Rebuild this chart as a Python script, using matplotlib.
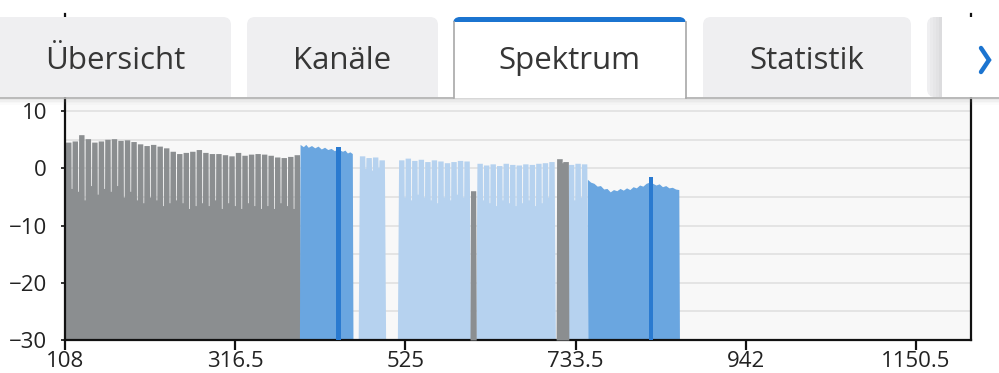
import matplotlib
matplotlib.use("Agg")
import matplotlib.pyplot as plt
from matplotlib.patches import FancyBboxPatch, Rectangle

# ── Data (MHz / dB) ───────────────────────────────────────────
CH_W = 8.0

# analogue / unused band, 8 MHz channels starting at 108
gray_start = 108.0
gray_peaks = [4.6, 4.8, 5.9, 5.2, 4.6, 4.8, 5.1, 5.2, 4.9, 5.0, 4.7, 4.3,
              4.0, 4.2, 3.9, 3.6, 3.0, 2.6, 2.8, 3.0, 3.3, 2.8, 2.6, 2.6,
              2.4, 2.2, 2.8, 2.3, 2.5, 2.6, 2.5, 2.3, 2.0, 1.9, 2.1, 2.4]
gray_dips = [-3.5, -4.0, -5.5, -3.0, -4.5, -3.5, -4.0, -3.0, -5.0, -4.0, -5.5, -6.0,
             -5.0, -5.5, -6.5, -6.0, -5.5, -6.0, -7.0, -6.5, -6.0, -6.5, -5.5, -7.0,
             -6.0, -6.5, -7.0, -6.0, -6.5, -7.0, -6.5, -7.0, -6.0, -6.5, -7.0]

# wide blocks (OFDM) as breakpoints
ofdm1_x = [396, 400, 403, 406, 410, 414, 418, 422, 426, 430, 434, 438, 442, 448, 451, 454, 457, 460]
ofdm1_y = [4.2, 3.8, 4.2, 3.7, 4.0, 3.6, 3.9, 3.4, 3.7, 3.3, 3.5, 3.1, 3.4, 3.0, 3.2, 2.7, 2.9, 2.6]
ofdm2_x = [748, 752, 756, 760, 764, 768, 772, 776, 780, 784, 788, 792, 796, 800, 804,
           808, 812, 816, 820, 824, 828, 832, 836, 840, 844, 848, 852, 856, 860]
ofdm2_y = [-1.9, -2.4, -2.6, -3.1, -3.0, -3.6, -3.5, -4.1, -3.7, -3.9, -3.5, -3.8, -3.4, -3.7, -3.2,
           -3.4, -2.9, -3.1, -2.6, -2.4, -2.6, -2.9, -2.7, -3.2, -3.0, -3.4, -3.3, -3.6, -3.7]

# narrow markers inside the wide blocks
marker_lo = [440, 823]
marker_hi = [446, 829]
marker_top = [3.7, -1.5]

# QAM channel groups
qam_a_start = 468.0
qam_a_peaks = [2.2, 1.9, 2.0, 1.5]
qam_a_dips = [0.0, -0.3, 0.2]

qam_b_start = 516.0
qam_b_peaks = [1.5, 1.8, 1.4, 1.6, 1.2, 1.5, 1.3, 1.0, 1.2, 1.4, 1.3]
qam_b_dips = [-5.0, -5.5, -4.5, -5.0, -5.5, -6.0, -5.0, -5.5, -4.5, -5.0]

qam_c_start = 612.0
qam_c_peaks = [0.9, 0.6, 0.8, 0.5, 0.9, 0.7, 0.6, 0.8, 0.7, 0.9, 1.0, 1.2]
qam_c_dips = [-5.5, -6.0, -6.5, -5.5, -6.0, -6.5, -6.0, -5.5, -6.5, -6.0, -5.0]

qam_d_start = 724.0
qam_d_peaks = [0.7, 0.9, 0.8]
qam_d_dips = [-5.5, -5.0]

# unused channels between QAM groups
gap1_start = 604.5
gap1_peaks = [-3.9]
gap2_start = 710.0
gap2_peaks = [1.7, 1.2]
gap2_dips = [1.0]

x_ticks = [108, 316.5, 525, 733.5, 942, 1150.5]
x_tick_labels = ["108", "316.5", "525", "733.5", "942", "1150.5"]
y_ticks = [-30, -20, -10, 0, 10]
tabs = ["Übersicht", "Kanäle", "Spektrum", "Statistik"]

FLOOR = -30
GRAY = "#8b8e90"
MID_BLUE = "#6aa6e0"
DARK_BLUE = "#2a7ad0"
LIGHT_BLUE = "#b6d2ef"
ACCENT = "#1b74d0"


def comb(start, peaks, dips, width=CH_W, edge=0.8, rim=0.7):
    """Outline of a run of channels: flat tops, narrow notches between them."""
    xs, ys = [start - edge], [FLOOR]
    for i, p in enumerate(peaks):
        lo = start + i * width
        hi = lo + width
        xs += [lo + rim, hi - rim]
        ys += [p, p]
        if i < len(peaks) - 1:
            xs += [hi - 0.45, hi + 0.45]
            ys += [dips[i], dips[i]]
    xs.append(start + len(peaks) * width + edge)
    ys.append(FLOOR)
    return xs, ys


def block(xb, yb, edge=0.8):
    return [xb[0] - edge] + list(xb) + [xb[-1] + edge], [FLOOR] + list(yb) + [FLOOR]


# ── Figure ────────────────────────────────────────────────────
fig = plt.figure(figsize=(9.99, 3.73), dpi=100)
fig.patch.set_facecolor("white")
W, H = 999, 373

ax = fig.add_axes([65 / W, 1 - 340 / H, (971 - 65) / W, (340 - 14) / H])
ax.set_facecolor("#f8f8f8")
ax.set_xlim(108, 1218)
ax.set_ylim(-30, 27)

for yv in range(-25, 27, 5):
    ax.axhline(yv, color="#e0e0e0", lw=1.2, zorder=0)

x, y = comb(gray_start, gray_peaks, gray_dips)
ax.fill_between(x, y, FLOOR, color=GRAY, lw=0, zorder=2)
x, y = block(ofdm1_x, ofdm1_y)
ax.fill_between(x, y, FLOOR, color=MID_BLUE, lw=0, zorder=2)
x, y = block(ofdm2_x, ofdm2_y)
ax.fill_between(x, y, FLOOR, color=MID_BLUE, lw=0, zorder=2)

for st, pk, dp in [(qam_a_start, qam_a_peaks, qam_a_dips),
                   (qam_b_start, qam_b_peaks, qam_b_dips),
                   (qam_c_start, qam_c_peaks, qam_c_dips),
                   (qam_d_start, qam_d_peaks, qam_d_dips)]:
    x, y = comb(st, pk, dp)
    ax.fill_between(x, y, FLOOR, color=LIGHT_BLUE, lw=0, zorder=2)

x, y = comb(gap1_start, gap1_peaks, [], width=7.0, edge=0.3, rim=0.3)
ax.fill_between(x, y, FLOOR, color=GRAY, lw=0, zorder=3)
x, y = comb(gap2_start, gap2_peaks, gap2_dips, width=7.5, edge=0.3, rim=0.3)
ax.fill_between(x, y, FLOOR, color=GRAY, lw=0, zorder=3)

for lo, hi, top in zip(marker_lo, marker_hi, marker_top):
    ax.bar((lo + hi) / 2, top - FLOOR, width=hi - lo, bottom=FLOOR,
           color=DARK_BLUE, lw=0, zorder=4)

for s in ["left", "bottom", "right"]:
    ax.spines[s].set_color("#111111")
    ax.spines[s].set_linewidth(1.6)
ax.spines["top"].set_visible(False)

ax.set_xticks(x_ticks)
ax.set_xticklabels(x_tick_labels)
ax.set_yticks(y_ticks)
ax.tick_params(axis="x", length=7, width=1.6, color="#111111", pad=1,
               labelsize=16, labelcolor="#222222")
ax.tick_params(axis="y", length=3, width=1.2, color="#111111", pad=10,
               labelsize=16, labelcolor="#222222")
for lab in ax.get_xticklabels() + ax.get_yticklabels():
    lab.set_fontfamily("Open Sans")

# ── Tab bar overlay (pixel coords) ────────────────────────────
ov = fig.add_axes([0, 0, 1, 1], zorder=10)
ov.set_xlim(0, W)
ov.set_ylim(H, 0)
ov.axis("off")
ov.patch.set_alpha(0)

ov.add_patch(Rectangle((67, 0), 902, 17, color="white", lw=0))
ov.add_patch(Rectangle((0, 17), W, 80, color="white", lw=0))

# shadow under the bar
for i, a in enumerate([0.35, 0.22, 0.14, 0.08, 0.04]):
    ov.add_patch(Rectangle((0, 97 + i * 1.5), W, 1.5, color="#9a9a9a",
                           alpha=a, lw=0))
ov.plot([0, 453], [97.5, 97.5], color="#b5b5b5", lw=1.2)
ov.plot([686, W], [97.5, 97.5], color="#b5b5b5", lw=1.2)

tab_x = [(-10, 231), (247, 438), (453, 686), (703, 911)]
TAB_BG = "#efeff1"
for (x0, x1), label in zip(tab_x, tabs):
    active = label == "Spektrum"
    if active:
        ov.add_patch(FancyBboxPatch((x0, 17), x1 - x0, 80,
                                    boxstyle="round,pad=0,rounding_size=7",
                                    fc=ACCENT, ec="none"))
        ov.add_patch(Rectangle((x0, 22), x1 - x0, 76, fc="white", ec="none"))
        ov.plot([x0 + 0.5, x0 + 0.5], [22, 98], color="#a8a8a8", lw=1.2)
        ov.plot([x1 - 0.5, x1 - 0.5], [22, 98], color="#a8a8a8", lw=1.2)
    else:
        ov.add_patch(FancyBboxPatch((x0, 17), x1 - x0, 80,
                                    boxstyle="round,pad=0,rounding_size=8",
                                    fc=TAB_BG, ec="none"))
        ov.add_patch(Rectangle((x0, 60), x1 - x0, 37, fc=TAB_BG, ec="none"))
    cx = (max(x0, 0) + x1) / 2
    ov.text(cx, 61, label, ha="center", va="center", fontsize=22.5,
            color="#363636", fontfamily="Open Sans")

# partial tab + scroll arrow on the right
ov.add_patch(FancyBboxPatch((927, 17), 90, 80,
                            boxstyle="round,pad=0,rounding_size=8",
                            fc=TAB_BG, ec="none"))
for i, a in enumerate([0.04, 0.08, 0.12, 0.18]):
    ov.add_patch(Rectangle((930 + i * 3, 17), 3, 80, color="#888888",
                           alpha=a, lw=0))
ov.add_patch(Rectangle((942, 17), 57, 80, color="white", lw=0))
ov.plot([981, 989, 981], [48, 60, 72], color=ACCENT, lw=3.2,
        solid_capstyle="round", solid_joinstyle="miter")

fig.savefig("out.png", dpi=100, facecolor="white")
